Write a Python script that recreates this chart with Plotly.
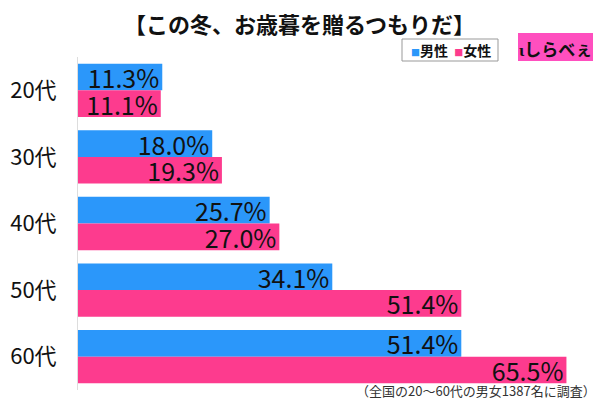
import plotly.graph_objects as go

categories = ["20代", "30代", "40代", "50代", "60代"]
male = [11.3, 18.0, 25.7, 34.1, 51.4]
female = [11.1, 19.3, 27.0, 51.4, 65.5]
series_names = ["男性", "女性"]
title_text = "【この冬、お歳暮を贈るつもりだ】"
note_text = "（全国の20～60代の男女1387名に調査）"

BLUE = "#2b97fa"
PINK = "#fd3b8e"
FONT = "Noto Sans CJK JP"

fig = go.Figure()
for name, vals, col in [(series_names[0], male, BLUE), (series_names[1], female, PINK)]:
    fig.add_trace(go.Bar(
        y=categories, x=vals, name=name, orientation="h",
        marker=dict(color=col, line=dict(width=0)),
        text=[f"{v:.1f}%" for v in vals],
        textposition="inside", insidetextanchor="end",
        textfont=dict(family=FONT, size=25, color="#111111"),
        cliponaxis=False,
    ))

fig.update_layout(
    width=600, height=400,
    margin=dict(l=78, r=0, t=57, b=10),
    paper_bgcolor="white", plot_bgcolor="white",
    barmode="group", bargap=0.2, bargroupgap=0,
    showlegend=False,
    uniformtext=dict(minsize=25, mode="show"),
    font=dict(family=FONT),
    xaxis=dict(range=[0, 70], visible=False, fixedrange=True),
    yaxis=dict(autorange="reversed", showline=True, linecolor="#dddddd", linewidth=1,
               showgrid=False, ticks="", ticklabelstandoff=16,
               tickfont=dict(family=FONT, size=22, color="#111111")),
)

def px_x(p):
    return (p - 78) / 522
def px_y(p):
    return 1 - (p - 57) / 333

# title
fig.add_annotation(xref="paper", yref="paper", x=px_x(299), y=px_y(23),
                   text=f"<b>{title_text}</b>", showarrow=False,
                   font=dict(family=FONT, size=22, color="#111111"),
                   xanchor="center", yanchor="middle")

# legend box
fig.add_shape(type="rect", xref="paper", yref="paper",
              x0=px_x(402), x1=px_x(498), y0=px_y(61), y1=px_y(39),
              line=dict(color="#999999", width=1), fillcolor="white")
fig.add_annotation(xref="paper", yref="paper", x=px_x(451), y=px_y(50),
                   text=(f"<span style='color:{BLUE};font-size:9px'>■</span><b>{series_names[0]}</b>  "
                         f"<span style='color:{PINK};font-size:9px'>■</span><b>{series_names[1]}</b>"),
                   showarrow=False, font=dict(family=FONT, size=14, color="#111111"),
                   xanchor="center", yanchor="middle")

# logo
fig.add_shape(type="rect", xref="paper", yref="paper",
              x0=px_x(518), x1=px_x(593), y0=px_y(61), y1=px_y(33),
              line=dict(width=0), fillcolor="#ff4fbf")
fig.add_annotation(xref="paper", yref="paper", x=px_x(555), y=px_y(48),
                   text="<b>ɩしらべぇ</b>", showarrow=False,
                   font=dict(family=FONT, size=17, color="#111111"),
                   xanchor="center", yanchor="middle")

# footnote
fig.add_annotation(xref="paper", yref="paper", x=px_x(598), y=px_y(390),
                   text=note_text, showarrow=False,
                   font=dict(family=FONT, size=13, color="#333333"),
                   xanchor="right", yanchor="middle")

fig.write_html("out.html")
